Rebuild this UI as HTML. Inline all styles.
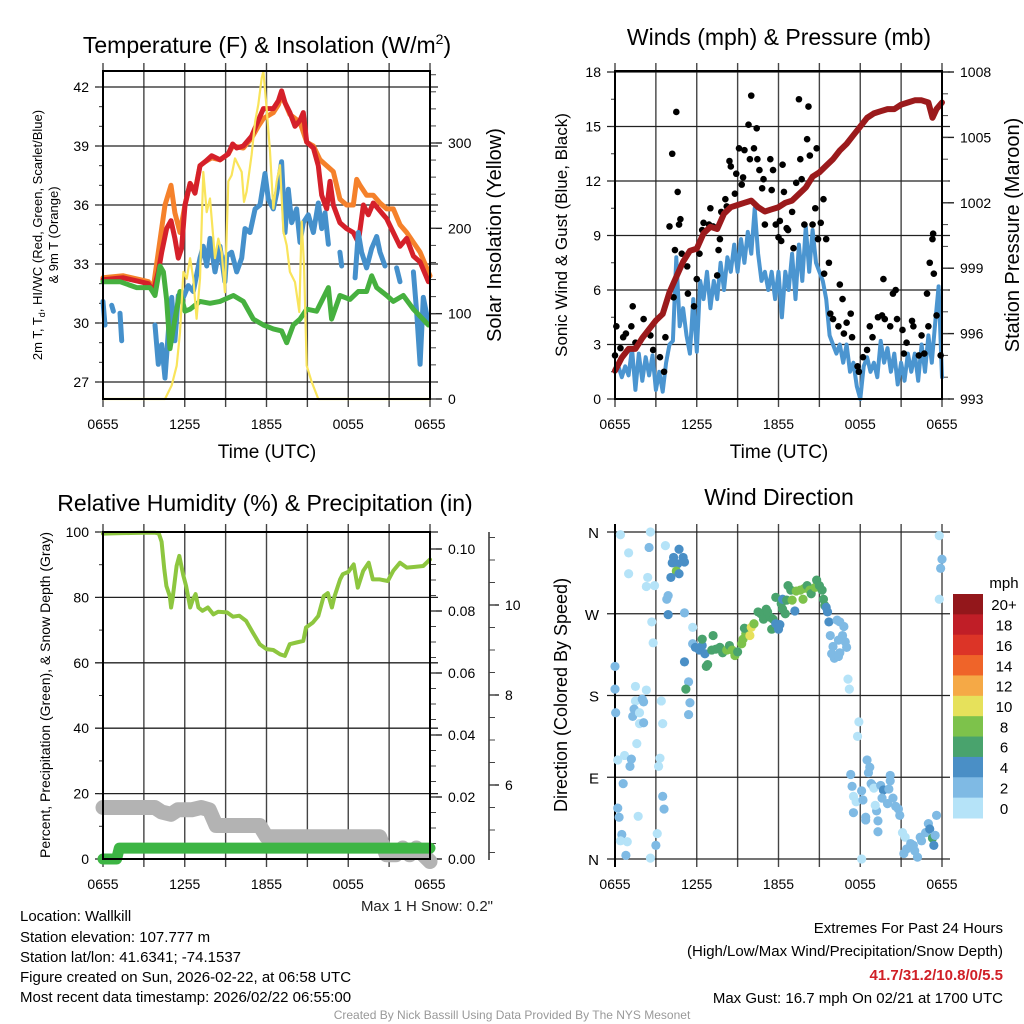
<!DOCTYPE html>
<html><head><meta charset="utf-8"><style>
html,body{margin:0;padding:0;background:#fff;}
svg{display:block;font-family:"Liberation Sans",Arial,sans-serif;}
</style></head><body>
<svg id="fig" width="1024" height="1024" viewBox="0 0 1024 1024" xmlns="http://www.w3.org/2000/svg">
<rect x="0" y="0" width="1024" height="1024" fill="#fff"/>
<g id="static">
<text x="267" y="53" font-size="23" text-anchor="middle">Temperature (F) &amp; Insolation (W/m<tspan font-size="14" dy="-9">2</tspan><tspan dy="9">)</tspan></text>
<text x="779" y="45" font-size="23" text-anchor="middle">Winds (mph) &amp; Pressure (mb)</text>
<text x="265" y="511" font-size="23" text-anchor="middle">Relative Humidity (%) &amp; Precipitation (in)</text>
<text x="779" y="505" font-size="23" text-anchor="middle">Wind Direction</text>
<text x="267" y="458" font-size="19" text-anchor="middle">Time (UTC)</text>
<text x="779" y="458" font-size="19" text-anchor="middle">Time (UTC)</text>
<text transform="translate(42,235) rotate(-90)" font-size="13" text-anchor="middle">2m T, T<tspan font-size="9" dy="3">d</tspan><tspan dy="-3">, HI/WC (Red, Green, Scarlet/Blue)</tspan></text>
<text transform="translate(58,235) rotate(-90)" font-size="13" text-anchor="middle">&amp; 9m T (Orange)</text>
<text transform="translate(501,235) rotate(-90)" font-size="20" text-anchor="middle">Solar Insolation (Yellow)</text>
<text transform="translate(567,235) rotate(-90)" font-size="17" text-anchor="middle">Sonic Wind &amp; Gust (Blue, Black)</text>
<text transform="translate(1019,235) rotate(-90)" font-size="20" text-anchor="middle">Station Pressure (Maroon)</text>
<text transform="translate(50,695) rotate(-90)" font-size="14" text-anchor="middle">Percent, Precipitation (Green), &amp; Snow Depth (Gray)</text>
<text transform="translate(567,695) rotate(-90)" font-size="18" text-anchor="middle">Direction (Colored By Speed)</text>
<text x="493" y="911" font-size="15" text-anchor="end" fill="#222">Max 1 H Snow: 0.2"</text>
<g font-size="15" fill="#000">
<text x="20" y="921">Location: Wallkill</text>
<text x="20" y="942">Station elevation: 107.777 m</text>
<text x="20" y="962">Station lat/lon: 41.6341; -74.1537</text>
<text x="20" y="982">Figure created on Sun, 2026-02-22, at 06:58 UTC</text>
<text x="20" y="1002">Most recent data timestamp: 2026/02/22 06:55:00</text>
</g>
<g font-size="15" text-anchor="end">
<text x="1003" y="933">Extremes For Past 24 Hours</text>
<text x="1003" y="956">(High/Low/Max Wind/Precipitation/Snow Depth)</text>
<text x="1003" y="980" fill="#d02027" font-weight="bold">41.7/31.2/10.8/0/5.5</text>
<text x="1003" y="1003">Max Gust: 16.7 mph On 02/21 at 1700 UTC</text>
</g>
<text x="512" y="1019" font-size="12" fill="#999" text-anchor="middle">Created By Nick Bassill Using Data Provided By The NYS Mesonet</text>
<text x="1004" y="588" font-size="15" text-anchor="middle">mph</text>
</g>
</svg>
<script>
// ---------- DATA ----------
const xTickLabels = ["0655","1255","1855","0055","0655"];
const tempTicks = [27,30,33,36,39,42];
const solarTicks = [0,100,200,300];
const windTicks = [0,3,6,9,12,15,18];
const presTicks = [993,996,999,1002,1005,1008];
const rhTicks = [0,20,40,60,80,100];
const precipTicks = [0.00,0.02,0.04,0.06,0.08,0.10];
const snowTicks = [6,8,10];
const dirTicks = [0,90,180,270,360];
const dirTickLabels = ["N","E","S","W","N"];
const speedBins = ["0","2","4","6","8","10","12","14","16","18","20+"];

const redHours = [0,1.49,2.72,3.33,3.69,4.06,4.31,4.67,4.99,5.28,5.53,5.77,6.02,6.39,6.75,7.12,7.49,7.98,8.59,9.2,9.52,9.81,10.3,10.91,11.4,11.77,12.5,12.87,13.11,13.36,13.72,14.09,14.46,14.7,14.95,15.44,15.8,16.05,16.42,16.66,16.9,17.39,17.88,18.37,18.74,19.11,19.47,19.84,20.33,20.82,21.31,21.8,22.29,22.78,23.27,23.88];
const redTemps = [32.2,32.3,32.1,32.0,31.6,32.6,33.6,34.8,35.2,34.3,33.3,33.8,36.0,37.1,36.6,38.0,38.2,38.5,38.3,38.6,39.1,38.9,39.0,39.5,40.3,40.9,40.9,41.3,41.8,41.2,40.7,40.0,40.3,40.7,39.2,38.9,38.0,36.5,35.8,37.2,36.0,35.1,34.8,34.6,34.1,36.0,35.5,36.1,35.7,35.3,34.6,33.9,34.3,33.4,33.1,32.1];
const orangeHours = [0,1.49,2.72,3.33,3.69,4.06,4.55,4.99,5.28,5.65,6.02,6.39,6.75,7.12,7.49,7.98,8.59,9.2,9.52,10.3,10.91,11.4,11.77,12.5,12.87,13.11,13.72,14.46,14.95,15.44,15.93,16.42,16.9,17.39,17.88,18.37,18.62,18.86,19.35,19.84,20.33,20.82,21.31,21.8,22.29,22.78,23.27,24];
const orangeTemps = [32.3,32.4,32.2,32.1,31.8,33.6,36.0,37.0,35.6,34.6,36.0,37.1,36.7,38.0,38.2,38.4,38.3,38.6,39.0,38.9,39.4,40.0,40.4,40.7,41.1,41.6,40.6,40.2,39.2,39.0,38.3,38.0,37.7,36.3,36.0,36.0,37.3,37.0,36.5,36.5,36.1,35.8,35.8,35.0,34.6,34.1,33.6,32.4];
const blueHours = [0,0.15,null,0.64,0.76,null,1.25,1.37,null,3.82,4.06,4.31,4.55,4.8,5.04,5.28,5.53,5.9,6.26,6.63,7.12,7.36,7.61,7.85,8.22,8.59,8.95,9.08,9.44,9.81,10.18,10.42,10.79,11.16,11.52,11.89,12.13,12.5,12.75,13.11,13.36,13.6,13.85,14.21,14.46,14.7,15.07,15.44,15.8,16.05,16.29,16.54,null,17.39,17.52,null,18.5,18.74,18.98,19.35,19.72,20.09,20.33,20.7,null,21.55,21.8,null,22.41,null,22.78,23.02,23.27,23.51,23.88];
const blueTemps = [31.1,29.9,null,30.9,30.6,null,30.5,29.1,null,29.9,27.9,28.9,27.2,29.6,31.3,29.1,31.4,31.3,31.9,31.6,33.3,33.9,32.9,34.3,32.6,33.9,32.1,33.4,33.6,32.6,33.3,34.8,34.6,35.8,36.0,37.6,36.3,35.8,36.6,38.2,34.6,36.8,35.1,35.8,34.1,35.1,35.5,34.6,36.1,34.8,35.6,34.0,null,33.6,32.9,null,32.3,34.6,33.6,32.8,33.8,34.4,33.6,32.9,null,32.8,32.1,null,33.1,null,32.6,30.6,27.9,31.3,30.0];
const greenHours = [0,1.25,2.47,3.45,3.82,4.18,4.43,4.67,4.92,5.28,5.65,6.02,6.39,7.12,7.85,8.59,9.57,10.3,11.03,11.77,12.5,13.11,13.48,13.97,14.46,14.95,15.68,16.54,16.78,17.39,18.13,18.74,19.35,19.72,20.09,20.82,21.31,22.04,22.78,23.88];
const greenTemps = [32.1,32.1,31.8,31.8,31.4,32.9,32.6,31.2,28.7,30.2,31.6,30.6,30.7,31.1,31.0,31.1,31.4,31.1,30.2,29.9,29.7,29.6,29.0,29.9,30.2,30.7,30.6,31.8,30.2,31.4,31.2,31.6,31.6,32.4,31.8,31.4,31.1,31.4,30.7,29.9];
const solarHours = [0,4.55,5.04,5.41,5.65,5.9,6.14,6.39,6.63,6.87,7.12,7.36,7.61,7.85,8.22,8.46,8.71,8.95,9.2,9.44,9.69,9.93,10.18,10.35,10.54,10.91,11.16,11.4,11.65,11.77,12.01,12.26,12.5,12.75,12.99,13.24,13.48,13.72,14.09,14.41,14.58,14.75,14.95,15.32,15.8,24];
const solarVals = [0,0,16,39,78,149,141,165,141,94,141,266,219,235,165,188,172,125,255,262,282,274,266,231,243,286,325,345,376,384,341,290,223,255,274,196,180,149,137,102,208,157,39,20,0,0];

const windHours = [0,0.25,0.5,0.75,1,1.25,1.5,1.75,2,2.25,2.5,2.75,3,3.25,3.5,3.75,4,4.25,4.5,4.75,5,5.25,5.5,5.75,6,6.25,6.5,6.75,7,7.25,7.5,7.75,8,8.25,8.5,8.75,9,9.25,9.5,9.75,10,10.25,10.5,10.75,11,11.25,11.5,11.75,12,12.25,12.5,12.75,13,13.25,13.5,13.75,14,14.25,14.5,14.75,15,15.25,15.5,15.75,16,16.25,16.5,16.75,17,17.25,17.5,17.75,18,18.25,18.5,18.75,19,19.25,19.5,19.75,20,20.25,20.5,20.75,21,21.25,21.5,21.75,22,22.25,22.5,22.75,23,23.25,23.5,23.75,24];
const windSpeeds = [1.5,1.8,1.2,1.8,1.3,2.8,0.5,2.5,1.0,2.3,1.3,2.4,0.5,1.5,0.4,2.0,3.0,3.2,7.8,4.0,5.0,3.5,2.5,5.5,2.6,6.5,5.5,7.0,5.0,6.5,5.5,7.5,6.0,7.8,7.0,8.5,7.0,8.8,7.5,9.2,8.0,10.5,8.0,6.5,7.0,6.0,7.0,5.5,7.0,4.5,7.0,6.0,8.0,5.5,8.5,6.5,9.5,7.0,9.3,7.5,7.0,6.5,5.5,3.5,3.0,2.5,3.0,2.0,3.0,1.5,2.0,0.7,0.0,1.8,2.3,1.5,2.0,1.2,3.2,2.0,2.8,1.5,2.5,0.8,2.0,1.0,2.5,1.5,2.5,1.0,3.0,1.5,3.5,2.0,4.2,6.2,1.2];
const gustHours = [0,0.1,0.4,0.6,0.8,1.2,1.3,1.5,2.1,2.6,2.8,3.3,3.6,3.7,4.0,4.2,4.3,4.4,4.5,4.6,4.7,4.8,4.9,5.3,5.35,5.8,6.0,6.2,6.4,6.5,6.9,7.0,7.2,7.5,7.6,7.7,7.8,8.1,8.2,8.4,8.5,8.8,8.9,9.1,9.3,9.4,9.5,9.8,9.9,10.0,10.2,10.4,10.45,10.6,10.8,10.9,11.0,11.4,11.5,11.6,11.8,12.0,12.1,12.2,12.3,12.4,12.6,12.7,13.0,13.1,13.3,13.5,13.6,13.7,13.9,14.1,14.2,14.3,14.5,14.8,14.7,14.9,15.1,15.3,15.35,15.5,15.7,15.8,16.0,16.4,16.5,16.7,16.8,17.0,17.3,17.4,17.8,17.9,18.2,18.5,18.7,18.9,19.3,19.6,19.7,19.8,20.2,20.4,20.6,20.7,21.1,21.2,21.4,21.8,21.9,22.3,22.5,22.7,22.9,23.0,23.1,23.3,23.35,23.4,23.6,23.9];
const gustSpeeds = [2.4,4.0,2.8,3.4,3.6,4.0,5.1,3.1,4.4,3.5,2.7,2.3,1.5,3.4,9.5,13.5,5.6,8.2,15.8,11.4,9.6,9.9,8.0,7.3,5.8,5.1,6.6,8.0,9.3,9.7,9.6,10.5,9.5,6.8,8.2,8.8,10.3,11.0,10.6,13.1,12.8,11.3,12.4,13.8,11.8,12.2,13.7,15.1,13.2,16.7,13.8,14.9,13.2,12.6,11.6,12.1,9.6,13.2,11.5,12.6,9.6,8.9,9.8,8.7,12.9,11.4,9.4,9.3,10.3,8.3,11.9,16.5,13.2,12.1,9.6,14.3,16.1,13.4,9.6,13.8,10.5,8.8,9.7,11.0,6.9,8.8,7.5,4.7,4.4,4.0,6.3,5.5,3.6,4.2,4.7,3.4,1.8,1.5,2.3,2.7,4.0,3.4,4.5,4.6,6.6,4.4,4.0,5.8,6.0,4.4,3.8,2.5,3.1,4.3,4.0,2.4,3.5,2.5,5.8,4.0,7.5,8.8,9.1,6.9,4.6,2.4];
const presHours = [0,0.5,1,1.5,2,2.5,3,3.5,4,4.5,5,5.5,6,6.5,7,7.5,8,8.5,9,9.5,10,10.5,11,11.5,12,12.5,13,13.5,14,14.5,15,15.5,16,16.5,17,17.5,18,18.5,19,19.5,20,20.5,21,21.5,22,22.5,23,23.3,23.6,24];
const presVals = [994.3,994.9,995.3,995.3,995.8,996.2,996.6,996.9,997.9,998.6,999.3,999.8,999.9,1000.6,1000.9,1000.8,1001.5,1001.8,1001.9,1002.0,1002.1,1001.8,1001.6,1001.7,1001.8,1002.0,1002.1,1002.4,1002.7,1003.2,1003.4,1003.7,1004.0,1004.4,1004.7,1005.1,1005.5,1005.9,1006.1,1006.2,1006.3,1006.3,1006.5,1006.6,1006.7,1006.7,1006.6,1005.9,1006.3,1006.6];

const rhHours = [0,1,2,3,3.8,4.1,4.3,4.5,4.65,4.9,5.0,5.1,5.4,5.6,5.9,6.1,6.4,6.6,6.8,7.0,7.3,7.7,8.1,8.45,9.1,9.55,10.0,10.5,11.0,11.5,12.0,12.5,13.0,13.35,13.7,14.2,14.7,14.9,15.4,15.8,16.2,16.5,16.8,17.0,17.4,17.6,18.0,18.4,18.7,19.1,19.5,19.8,20.3,20.9,21.3,21.8,22.3,22.8,23.5,24];
const rhVals = [99.5,99.6,99.7,99.8,99.8,99.5,97,88.6,83.5,80.4,76.9,79.4,89.6,92.7,86.6,83.5,76.9,79.4,81.0,76.9,75.9,76.9,74.8,75.6,75.4,74.1,74.4,72.8,69.2,65.7,64.2,63.9,62.6,62.1,65.7,66.2,66.7,70.8,72.3,74.3,80.4,81.3,76.9,80.4,85.5,87.1,87.8,90.1,83.0,88.1,90.6,85.5,85.5,85.0,88.1,90.6,89.1,89.3,89.6,91.6];
const precipHours = [0,1.0,1.2,24];
const precipVals = [0,0,0.0035,0.0035];
const snowHours = [0,3.8,4.3,5.0,5.5,6.5,7.2,7.8,8.3,11.5,12.0,20.3,20.8,21.5,22,22.5,23,24];
const snowVals = [5.5,5.5,5.4,5.35,5.45,5.45,5.5,5.45,5.1,5.1,4.85,4.85,4.45,4.45,4.6,4.45,4.6,4.3];

const dirHours = [0.4,2.6,1.0,2.5,3.7,1.0,2.4,2.3,2.9,2.7,2.8,0,0,0.05,1.5,2.3,1.5,2.0,2.1,1.4,1.3,1.8,1.8,2.1,3.4,3.5,1.6,0.2,0.7,1.2,1.1,3.3,3.2,0.6,3.5,3.6,0.2,0.3,1.7,0.5,0.4,0.9,3.1,3.0,0.8,2.6,
 4.7,4.3,5.0,4.2,4.6,5.1,4.5,4.7,4.1,3.9,3.8,3.9,5.1,5.7,
 5.1,5.4,5.2,5.5,5.4,5.7,5.9,6.2,6.4,6.6,6.4,7.2,6.8,6.7,7.1,7.4,7.7,7.9,8.2,8.4,8.6,8.8,9.0,9.3,9.4,9.6,9.5,9.9,10.0,10.2,10.5,10.7,10.9,11.1,11.2,11.4,11.5,11.6,11.8,12.0,12.1,11.8,12.2,12.3,12.5,12.3,12.6,12.7,12.9,13.0,13.2,13.3,13.6,13.8,13.9,14.1,14.3,14.4,14.7,14.8,15.0,15.2,15.3,15.4,15.5,15.7,15.6,15.8,16.0,16.3,16.5,16.8,16.7,16.9,17.0,16.4,15.9,16.1,16.4,16.5,17.1,17.2,17.9,17.8,
 17.3,17.4,17.5,17.7,18.1,18.2,17.5,18.4,18.4,18.5,18.7,18.6,18.8,18.9,19.0,19.2,19.3,19.3,19.5,19.7,19.6,20.0,20.2,20.2,20.1,20.4,20.6,20.8,20.9,21.1,21.3,21.2,21.4,21.7,21.9,22.2,22.0,22.4,22.5,22.8,23.0,23.1,23.3,23.4,23.6,23.5,23.8,24.0,23.9,23.8,19.1,18.1];
const dirDegs = [357,360,337,343,345,314,310,300,301,261,238,212,187,161,190,186,174,176,173,165,157,161,149,150,174,149,127,109,114,110,102,111,102,83,69,55,56,46,47,27,20,19,28,15,4,1,
 341,332,332,326,325,327,317,314,310,290,286,269,271,255,
 217,195,187,172,159,237,233,230,235,226,242,246,214,212,230,231,233,227,230,235,230,224,228,237,242,248,254,246,255,259,272,270,264,275,272,266,253,264,259,253,258,288,281,275,270,286,285,301,296,285,273,295,296,286,298,301,296,292,299,307,301,296,286,279,277,261,272,246,234,263,261,256,246,239,233,241,226,221,223,227,198,187,151,135,
 93,80,69,63,75,65,51,46,43,109,101,95,83,81,78,53,42,30,81,76,67,61,92,86,77,67,58,55,48,29,24,6,11,17,15,2,9,24,20,29,39,33,23,15,48,26,356,330,320,286,59,0];
const dirSpeeds = [0,0,0,2,0,0,0,0,0,0,0,2,2,2,0,0,0,2,2,2,2,0,0,2,0,0,0,0,0,2,2,0,0,2,2,2,2,2,0,2,0,0,0,2,2,0,
 4,4,4,4,4,4,8,4,4,2,2,4,2,0,
 4,2,6,2,2,2,4,4,4,4,6,6,6,6,6,6,6,6,8,6,8,8,6,8,8,8,6,10,10,8,6,6,6,6,6,6,6,6,4,4,4,6,6,6,6,4,6,6,6,8,4,8,8,8,8,6,8,6,8,6,6,6,6,6,4,4,4,2,2,2,2,2,2,2,2,2,2,2,2,2,0,0,0,0,
 2,2,0,0,2,2,2,2,2,2,2,2,2,2,0,2,2,2,2,4,2,2,2,2,2,2,2,2,2,0,0,2,2,2,2,2,2,2,2,2,2,4,6,4,2,2,0,2,2,0,0,0];

// ---------- STYLE / GEOMETRY ----------
const binColors = ["#b5e3f8","#7fbae4","#4a8fc6","#49a36d","#7dc24b","#e6e15b","#f5a946","#ef6429","#dc3427","#c01e27","#93171b"];
const P1={x0:103,x1:430,y0:71,y1:399}, P2={x0:615,x1:942,y0:71,y1:399}, P3={x0:103,x1:430,y0:532,y1:859}, P4={x0:615,x1:942,y0:532,y1:859};
const NS="http://www.w3.org/2000/svg";
const svg=document.getElementById('fig');
function lin(d0,d1,r0,r1){return v=>r0+(v-d0)*(r1-r0)/(d1-d0);}
function mk(tag,attrs,parent){const e=document.createElementNS(NS,tag);for(const k in attrs)e.setAttribute(k,attrs[k]);(parent||svg).appendChild(e);return e;}
function xs(P){return lin(0,24,P.x0,P.x1);}
const tY=lin(27,42,382,87), sY=lin(0,300,399,143), wY=lin(0,18,399,72), pY=lin(993,1008,399,72);
const rY=lin(0,100,859,532), prY=lin(0,0.10,859,549), snY=lin(6,10,785,605), dY=lin(0,360,859,532);

function grid(P,yTicks,yFn,name){
  const g=mk('g',{});
  
  
  const X=xs(P);
  for(let i=0;i<=8;i++){const x=X(i*3);const l=mk('line',{x1:x,x2:x,y1:P.y0-8,y2:P.y1+8,stroke:'#444','stroke-width':1.4},g);
    
    }
  yTicks.forEach(v=>{const y=yFn(v);const l=mk('line',{x1:P.x0-8,x2:P.x1+8,y1:y,y2:y,stroke:'#222','stroke-width':1.3},g);
    
    });
  xTickLabels.forEach((t,i)=>{const tx=mk('text',{x:X(i*6),y:P.y1+30,'font-size':14,'text-anchor':'middle'},g);tx.textContent=t;
    
    });
}
function leftAxis(P,ticks,fn,fmt,minorStep,name){
  const g=mk('g',{});
  
  
  ticks.forEach(v=>{const t=mk('text',{x:P.x0-14,y:fn(v)+5,'font-size':14,'text-anchor':'end'},g);t.textContent=fmt(v);
    
    });
  if(minorStep){const a=ticks[0],b=ticks[ticks.length-1];
    for(let v=a;v<=b+1e-9;v+=minorStep){const y=fn(v);if(y<P.y0-1||y>P.y1+1)continue;const l=mk('line',{x1:P.x0-4,x2:P.x0,y1:y,y2:y,stroke:'#333','stroke-width':1},g);
      
      }}
}
function rightAxis(x,ticks,fn,fmt,minor,name,y0,y1,len){
  const g=mk('g',{});
  
  
  ticks.forEach(v=>{const y=fn(v);const l=mk('line',{x1:x,x2:x+(len||12),y1:y,y2:y,stroke:'#222','stroke-width':1.4},g);
    
    
    const t=mk('text',{x:x+(len||12)+6,y:y+5,'font-size':14},g);t.textContent=fmt(v);
    
    });
  minor.forEach(v=>{const y=fn(v);if(y<y0-1||y>y1+1)return;const l=mk('line',{x1:x,x2:x+6,y1:y,y2:y,stroke:'#444','stroke-width':1},g);
    
    });
}
function rng(a,b,s){const r=[];for(let v=a;v<=b+1e-9;v+=s)r.push(+v.toFixed(4));return r;}
function line(P,hs,vs,fn,color,w,name,op){
  const X=xs(P);let segs=[],cur=[];
  hs.forEach((h,i)=>{if(h===null||vs[i]===null){if(cur.length)segs.push(cur);cur=[];}else cur.push(X(h).toFixed(1)+','+fn(vs[i]).toFixed(1));});
  if(cur.length)segs.push(cur);
  segs.forEach(s=>{const p=mk('polyline',{points:s.join(' '),fill:'none',stroke:color,'stroke-width':w,'stroke-linejoin':'round','stroke-linecap':'round',opacity:op||1});
    
    });
}
function box(P,name){const r=mk('rect',{x:P.x0,y:P.y0,width:P.x1-P.x0,height:P.y1-P.y0,fill:'none',stroke:'#000','stroke-width':2});
  
  }

// ---------- PANEL 1 ----------
grid(P1,tempTicks,tY,'temp');
leftAxis(P1,tempTicks,tY,v=>v,1,'temp-y-axis');
rightAxis(P1.x1,solarTicks,sY,v=>v,rng(0,380,20),'solar-y-axis',P1.y0,P1.y1);
line(P1,orangeHours,orangeTemps,tY,'#f5812b',5,'series-9m-temp-orange');
line(P1,redHours,redTemps,tY,'#d5202a',5,'series-2m-temp-red');
line(P1,blueHours,blueTemps,tY,'#4590cb',5,'series-hiwc-blue');
line(P1,greenHours,greenTemps,tY,'#46b03f',5,'series-dewpoint-green');
line(P1,solarHours,solarVals,sY,'#f9e45b',2.2,'series-solar-yellow');
box(P1,'temp-plot-frame');

// ---------- PANEL 2 ----------
grid(P2,windTicks,wY,'wind');
leftAxis(P2,windTicks,wY,v=>v,1.5,'wind-y-axis');
rightAxis(P2.x1,presTicks,pY,v=>v,rng(993,1008,1),'pressure-y-axis',P2.y0,P2.y1);
line(P2,windHours,windSpeeds,wY,'#4b95d0',4,'series-sonic-wind');
(function(){const X=xs(P2);gustHours.forEach((h,i)=>{const c=mk('circle',{cx:X(h),cy:wY(gustSpeeds[i]),r:3.3,fill:'#000'});
  
  });})();
line(P2,presHours,presVals,pY,'#9b1a1c',6,'series-pressure');
box(P2,'wind-plot-frame');

// ---------- PANEL 3 ----------
grid(P3,rhTicks,rY,'rh');
leftAxis(P3,rhTicks,rY,v=>v,10,'rh-y-axis');
rightAxis(P3.x1,precipTicks,prY,v=>v.toFixed(2),rng(0,0.10,0.005),'precip-y-axis',P3.y0,P3.y1);
(function(){const l=mk('line',{x1:489,x2:489,y1:P3.y0,y2:P3.y1+1,stroke:'#222','stroke-width':1.4});
  
  })();
rightAxis(489,snowTicks,snY,v=>v,rng(4.5,11.5,0.5),'snow-y-axis',P3.y0,P3.y1,10);
line(P3,snowHours,snowVals,snY,'#b3b3b3',15,'series-snow-depth');
line(P3,precipHours,precipVals,prY,'#3db544',11,'series-precip');
line(P3,rhHours,rhVals,rY,'#8dc63f',4,'series-rh');
box(P3,'rh-plot-frame');

// ---------- PANEL 4 ----------
grid(P4,dirTicks,dY,'direction');
(function(){const g=mk('g',{});
  
  
  dirTicks.forEach((v,i)=>{const t=mk('text',{x:P4.x0-16,y:dY(v)+6,'font-size':15,'text-anchor':'end'},g);t.textContent=dirTickLabels[i];
    
    });
  const l=mk('line',{x1:P4.x0,x2:P4.x0,y1:P4.y0-8,y2:P4.y1+8,stroke:'#000','stroke-width':2});
  
  
  const X=xs(P4);
  dirHours.forEach((h,i)=>{const b=Math.min(10,Math.floor(dirSpeeds[i]/2));const c=mk('circle',{cx:X(h),cy:dY(dirDegs[i]),r:4.6,fill:binColors[b]});
    
    });
})();
// colorbar
(function(){const g=mk('g',{});
  
  
  const top=594,bot=818,h=(bot-top)/speedBins.length;
  speedBins.forEach((s,i)=>{const k=speedBins.length-1-i;const y=top+i*h;
    const r=mk('rect',{x:953,y:y,width:30,height:h+0.5,fill:binColors[k]},g);
    
    
    const t=mk('text',{x:1004,y:y+h/2+6,'font-size':15,'text-anchor':'middle'},g);t.textContent=speedBins[k];
    
    });
})();
</script>
</body></html>
